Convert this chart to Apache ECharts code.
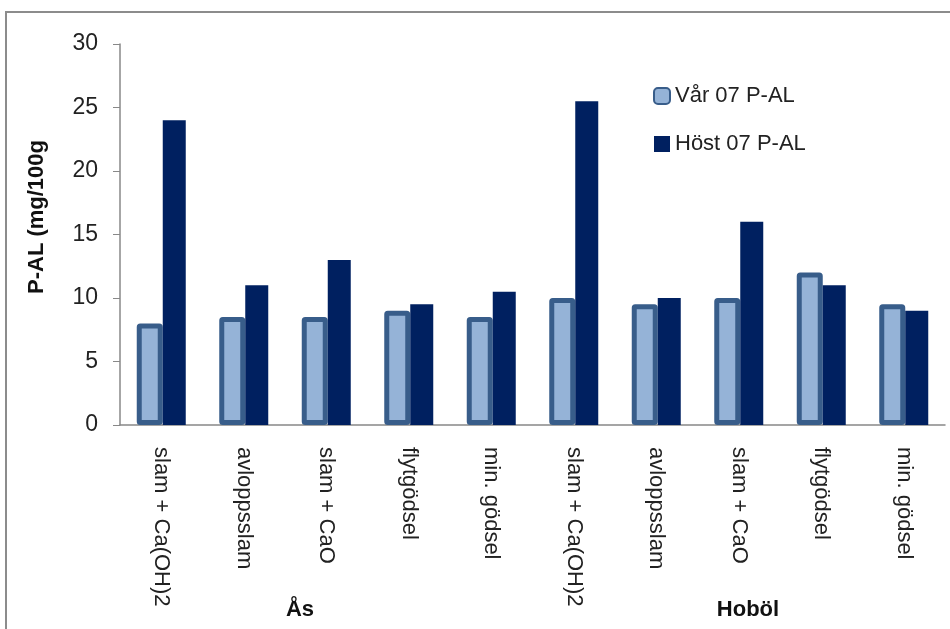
<!DOCTYPE html>
<html>
<head>
<meta charset="utf-8">
<script src="https://cdn.jsdelivr.net/npm/echarts@6/dist/echarts.min.js"></script>
<style>
  html, body { margin: 0; padding: 0; background: #fff; }
  #chart { width: 950px; height: 629px; }
</style>
</head>
<body>
<div id="chart"></div>
<script>
const categories = [
  "slam + Ca(OH)2", "avloppsslam", "slam + CaO", "flytgödsel", "min. gödsel",
  "slam + Ca(OH)2", "avloppsslam", "slam + CaO", "flytgödsel", "min. gödsel"
];
const varValues = [8, 8.5, 8.5, 9, 8.5, 10, 9.5, 10, 12, 9.5];
const hostValues = [24, 11, 13, 9.5, 10.5, 25.5, 10, 16, 11, 9];
const yTicks = [0, 5, 10, 15, 20, 25, 30];

const font = "'Liberation Sans', Arial, sans-serif";
const chart = echarts.init(document.getElementById("chart"));

chart.setOption({
  backgroundColor: "#fff",
  animation: false,
  grid: { left: 120, top: 44, right: 5, bottom: 204 },
  legend: {
    orient: "vertical",
    left: 648,
    top: 80,
    itemWidth: 16,
    itemHeight: 16,
    itemGap: 26,
    textStyle: { fontFamily: font, fontSize: 22, color: "#222" },
    data: [
      { name: "Vår 07 P-AL", icon: "roundRect" },
      { name: "Höst 07 P-AL", icon: "rect" }
    ]
  },
  xAxis: {
    type: "category",
    data: categories,
    axisLine: { lineStyle: { color: "#888", width: 1.5 } },
    axisTick: { length: 6, lineStyle: { color: "#888" } },
    axisLabel: {
      rotate: -90,
      interval: 0,
      margin: 22,
      fontFamily: font,
      fontSize: 22,
      color: "#222"
    }
  },
  yAxis: {
    type: "value",
    min: yTicks[0],
    max: yTicks[yTicks.length - 1],
    interval: 5,
    splitLine: { show: false },
    axisLine: { show: true, lineStyle: { color: "#888", width: 1.5 } },
    axisTick: { show: true, length: 7, lineStyle: { color: "#888" } },
    axisLabel: {
      margin: 22,
      fontFamily: font,
      fontSize: 23,
      color: "#222"
    }
  },
  series: [
    {
      name: "Vår 07 P-AL",
      type: "bar",
      data: varValues,
      barWidth: 26,
      barGap: 0,
      itemStyle: { color: "#95B3D7", borderColor: "#385D8A", borderWidth: 5, borderRadius: 1 }
    },
    {
      name: "Höst 07 P-AL",
      type: "bar",
      data: hostValues,
      barWidth: 23,
      itemStyle: { color: "#002060" }
    }
  ],
  graphic: [
    {
      type: "rect",
      shape: { x: 6, y: 12, width: 1200, height: 900 },
      style: { fill: "none", stroke: "#8c8c8c", lineWidth: 2 },
      silent: true
    },
    {
      type: "text",
      x: 37,
      y: 217,
      rotation: Math.PI / 2,
      style: {
        text: "P-AL (mg/100g",
        font: "bold 22px " + font,
        fill: "#111",
        align: "center",
        verticalAlign: "middle"
      }
    },
    {
      type: "text",
      x: 300,
      y: 610,
      style: {
        text: "Ås",
        font: "bold 22px " + font,
        fill: "#111",
        align: "center",
        verticalAlign: "middle"
      }
    },
    {
      type: "text",
      x: 748,
      y: 610,
      style: {
        text: "Hoböl",
        font: "bold 22px " + font,
        fill: "#111",
        align: "center",
        verticalAlign: "middle"
      }
    }
  ]
});
</script>
</body>
</html>
